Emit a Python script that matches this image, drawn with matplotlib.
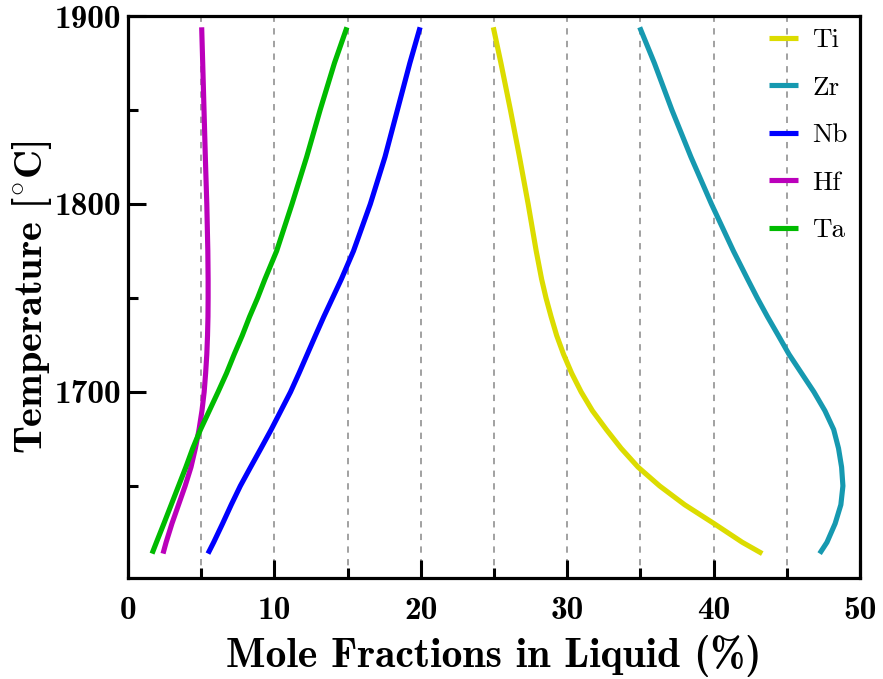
import matplotlib
matplotlib.use("Agg")
import matplotlib.pyplot as plt
from matplotlib.ticker import MultipleLocator

plt.rcParams["mathtext.fontset"] = "cm"

temperature = [1614, 1620, 1630, 1640, 1650, 1660, 1670, 1680, 1690, 1700, 1710,
               1720, 1730, 1740, 1750, 1760, 1775, 1800, 1825, 1850, 1875, 1894]
ti = [43.32, 41.96, 40.02, 38.02, 36.31, 34.84, 33.68, 32.67, 31.72, 30.95, 30.3,
      29.75, 29.28, 28.9, 28.55, 28.25, 27.88, 27.33, 26.74, 26.12, 25.47, 24.95]
zr = [47.24, 47.74, 48.3, 48.69, 48.83, 48.74, 48.53, 48.2, 47.6, 46.85, 46.0,
      45.15, 44.42, 43.68, 42.98, 42.32, 41.35, 39.85, 38.45, 37.15, 35.95, 34.95]
nb = [5.46, 5.85, 6.46, 7.05, 7.67, 8.37, 9.08, 9.78, 10.44, 11.1, 11.68,
      12.24, 12.8, 13.37, 13.97, 14.57, 15.4, 16.55, 17.55, 18.4, 19.25, 19.95]
hf = [2.39, 2.6, 3.0, 3.45, 3.9, 4.3, 4.6, 4.85, 5.05, 5.2, 5.3,
      5.38, 5.43, 5.46, 5.47, 5.47, 5.45, 5.38, 5.28, 5.19, 5.1, 5.03]
ta = [1.64, 1.94, 2.45, 2.95, 3.45, 3.95, 4.42, 4.95, 5.55, 6.15, 6.73,
      7.25, 7.8, 8.3, 8.85, 9.35, 10.15, 11.2, 12.2, 13.12, 14.1, 14.95]

series_names = ["Ti", "Zr", "Nb", "Hf", "Ta"]
series_values = [ti, zr, nb, hf, ta]
colors = ["#dcdc00", "#1699b0", "#0000ff", "#bb00bb", "#00bb00"]

x_ticks = [0, 10, 20, 30, 40, 50]
y_ticks = [1700, 1800, 1900]

bold_font = ["cmb10", "DejaVu Serif"]
reg_font = ["cmr10", "DejaVu Serif"]

fig = plt.figure(figsize=(8.83, 6.79), dpi=100)
ax = fig.add_axes([0.145, 0.1487, 0.829, 0.8277])

for name, vals, c in zip(series_names, series_values, colors):
    ax.plot(vals, temperature, color=c, lw=3.7, label=name,
            solid_capstyle="butt", solid_joinstyle="round")

ax.set_xlim(0, 50)
ax.set_ylim(1601, 1900)
ax.xaxis.set_minor_locator(MultipleLocator(5))
ax.yaxis.set_minor_locator(MultipleLocator(50))
ax.set_xticks(x_ticks)
ax.set_yticks(y_ticks)

for gx in range(5, 50, 5):
    ax.axvline(gx, color="#9a9a9a", lw=1.3, ls=(0, (3.5, 3.5)), zorder=0)

ax.tick_params(which="major", direction="in", length=13, width=2.2)
ax.tick_params(which="minor", direction="in", length=7, width=2.2)
ax.tick_params(axis="x", which="major", pad=13)
ax.tick_params(axis="y", which="major", pad=5)
for sp in ax.spines.values():
    sp.set_linewidth(2.3)

for lab in ax.get_xticklabels() + ax.get_yticklabels():
    lab.set_fontfamily(bold_font)
    lab.set_fontsize(24)

ax.set_xlabel("Mole Fractions in Liquid (%)", fontfamily=bold_font, fontsize=30, labelpad=7)
ax.set_ylabel("Temperature [$^{\\circ}$C]", fontfamily=bold_font, fontsize=29, labelpad=0)

leg = ax.legend(loc="upper right", frameon=False, prop={"family": reg_font, "size": 19.5},
                handlelength=1.05, labelspacing=0.87, handletextpad=0.55,
                borderaxespad=0.05, borderpad=0.4)
for line in leg.get_lines():
    line.set_linewidth(3.7)

fig.savefig("out.png", dpi=100)
